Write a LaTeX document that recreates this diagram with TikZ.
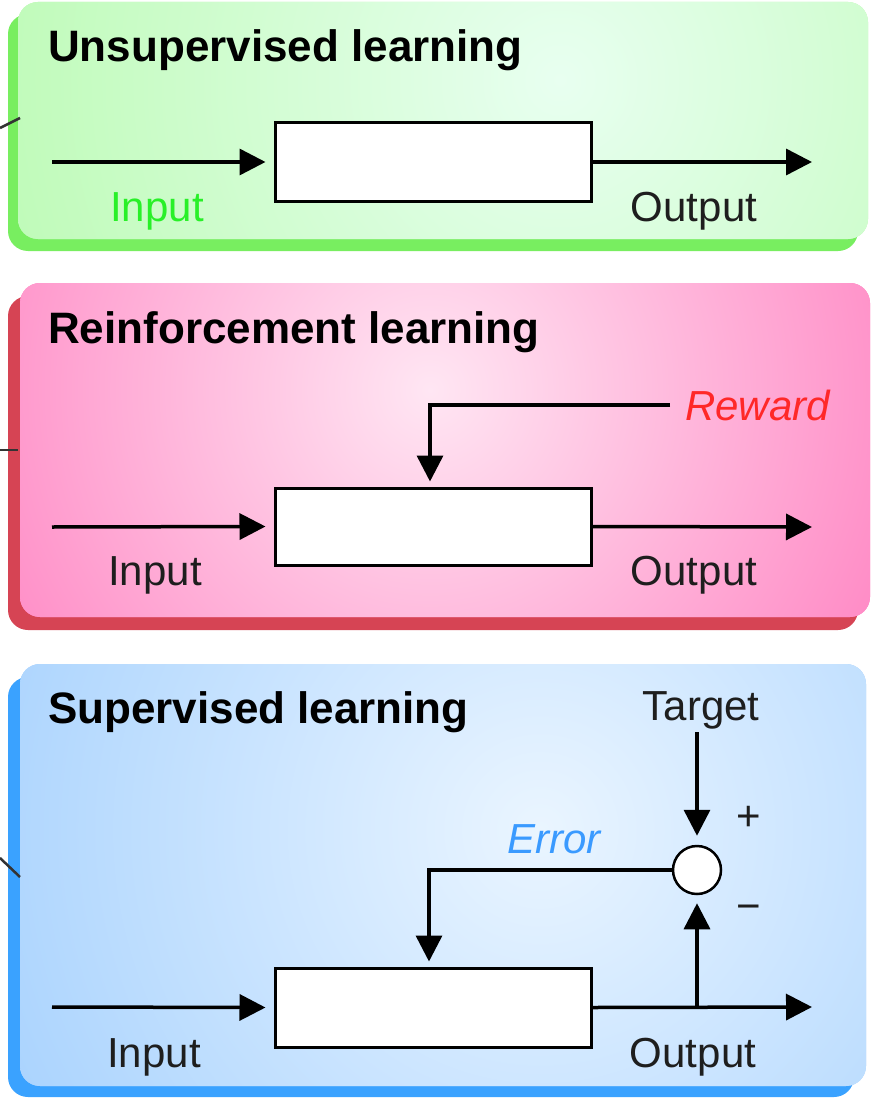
\documentclass[tikz,border=0pt]{standalone}
\usepackage{fontspec}
\setmainfont{Liberation Sans}
\usetikzlibrary{arrows.meta,calc}
\definecolor{gshadow}{RGB}{120,238,96}
\definecolor{gouter}{RGB}{182,250,172}
\definecolor{ginner}{RGB}{232,255,240}
\definecolor{pshadow}{RGB}{214,68,84}
\definecolor{pouter}{RGB}{255,124,190}
\definecolor{pinner}{RGB}{255,230,243}
\definecolor{bshadow}{RGB}{58,162,255}
\definecolor{bouter}{RGB}{160,206,254}
\definecolor{binner}{RGB}{234,245,255}
\definecolor{ingreen}{RGB}{40,240,40}
\definecolor{rewardred}{RGB}{255,40,40}
\definecolor{errorblue}{RGB}{58,154,255}
\definecolor{txt}{RGB}{30,30,30}
\tikzset{
  ttl/.style={font=\fontsize{44}{44}\selectfont\bfseries, inner sep=0pt, anchor=base west, text=black},
  lbl/.style={font=\fontsize{42}{42}\selectfont, inner sep=0pt, anchor=base, text=txt},
  ital/.style={font=\fontsize{42}{42}\selectfont\itshape, inner sep=0pt, anchor=base west},
  blackbox/.style={draw=black, fill=white, line width=3pt, minimum width=316pt, minimum height=78pt, inner sep=0pt},
  sumnode/.style={circle, draw=black, fill=white, line width=2.5pt, minimum size=48pt, inner sep=0pt},
  conn/.style={line width=3.5pt, draw=black},
  arr/.style={conn, -{Triangle[length=26pt,width=26pt]}},
  stub/.style={line width=2.5pt, draw=black!80},
}
\begin{document}
\begin{tikzpicture}[x=1pt,y=-1pt]
\useasboundingbox (0,0) rectangle (872,1102);
\fill[white] (0,0) rectangle (872,1102);

% ---------- Panel 1: Unsupervised ----------
\fill[gshadow, rounded corners=20pt] (8,14) rectangle (858,251);
\begin{scope}
  \clip[rounded corners=20pt] (18,2) rectangle (868,239);
  \fill[gouter] (0,0) rectangle (872,260);
  \shade[inner color=ginner, outer color=gouter] (560,80) circle (700);
\end{scope}

% ---------- Panel 2: Reinforcement ----------
\fill[pshadow, rounded corners=20pt] (8,296) rectangle (858,630);
\begin{scope}
  \clip[rounded corners=20pt] (20,283) rectangle (870,617);
  \fill[pouter] (0,270) rectangle (872,640);
  \shade[inner color=pinner, outer color=pouter] (430,390) circle (580);
\end{scope}

% ---------- Panel 3: Supervised ----------
\fill[bshadow, rounded corners=20pt] (8,677) rectangle (854,1097);
\begin{scope}
  \clip[rounded corners=20pt] (20,664) rectangle (866,1086);
  \fill[bouter] (0,650) rectangle (872,1102);
  \shade[inner color=binner, outer color=bouter] (540,830) circle (680);
\end{scope}

% left edge stubs
\draw[stub] (0,128) -- (20,118);
\draw[stub] (0,450) -- (18,450);
\draw[stub] (0,858) -- (20,877);

% ---------- Panel 1 content ----------
\node[ttl] (t1) at (48,62) {Unsupervised learning};
\node[blackbox] (box1) at (433,162) {};
\coordinate (in1) at (52,162);
\coordinate (out1) at (812,162);
\draw[arr] (in1) -- ([xshift=-8pt]box1.west);
\draw[arr] (box1.east) -- (out1);
\node[lbl, text=ingreen] (li1) at (157,222) {Input};
\node[lbl] (lo1) at (694,222) {Output};

% ---------- Panel 2 content ----------
\node[ttl] (t2) at (48,343) {Reinforcement learning};
\node[blackbox, minimum height=77pt] (box2) at (433,526.5) {};
\coordinate (in2) at (52,527);
\coordinate (out2) at (812,527);
\draw[arr] (in2) -- ([xshift=-8pt]box2.west);
\draw[arr] (box2.east) -- (out2);
\node[lbl] (li2) at (155,585) {Input};
\node[lbl] (lo2) at (694,585) {Output};
\coordinate (rw) at (670,405);
\draw[arr] (rw) -| ([xshift=-3pt,yshift=5pt]box2.north);
\node[ital, text=rewardred] (lrw) at (685,420) {Reward};

% ---------- Panel 3 content ----------
\node[ttl] (t3) at (48,723) {Supervised learning};
\node[blackbox, minimum height=79pt] (box3) at (433,1007.5) {};
\coordinate (in3) at (52,1007);
\coordinate (out3) at (812,1007);
\draw[arr] (in3) -- ([xshift=-8pt]box3.west);
\draw[arr] (box3.east) -- (out3);
\node[lbl] (li3) at (154,1067) {Input};
\node[lbl] (lo3) at (693,1067) {Output};

\node[sumnode] (sum) at (697,870) {};
\node[lbl] (tgt) at (701,720) {Target};
\coordinate (tgtS) at (697,732);
\draw[arr] (tgtS) -- ([yshift=9pt]sum.north);
\draw[arr] (sum |- box3.east) -- ([yshift=-8pt]sum.south);
\draw[arr] (sum.west) -| ([xshift=-4pt,yshift=5pt]box3.north);
\node[ital, text=errorblue] (lerr) at (507,853) {Error};
\node[lbl, anchor=center] (plus) at (749,818) {+};
\node[lbl, anchor=center] (minus) at (749,913) {−};
\end{tikzpicture}
\end{document}
